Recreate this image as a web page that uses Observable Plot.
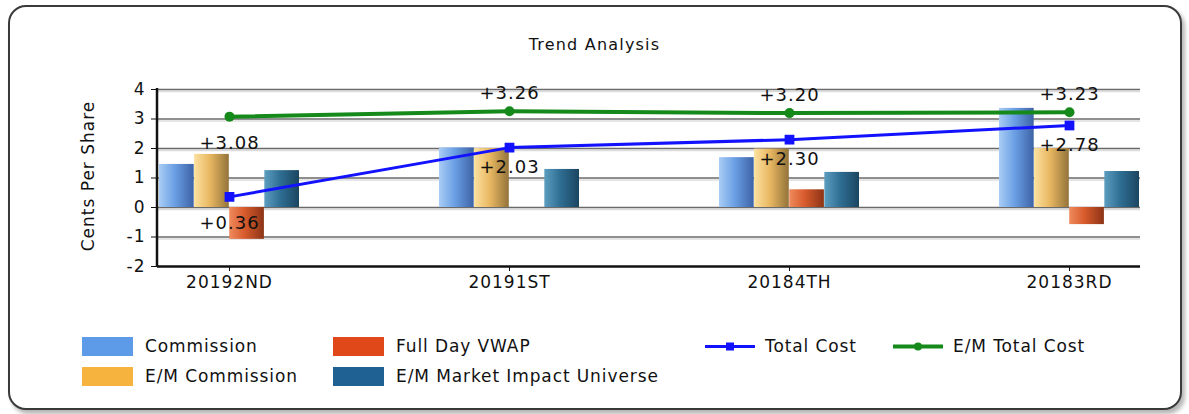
<!DOCTYPE html>
<html><head><meta charset="utf-8">
<script src="https://cdn.jsdelivr.net/npm/d3@7"></script>
<script src="https://cdn.jsdelivr.net/npm/@observablehq/plot@0.6"></script>
<style>
html,body{margin:0;padding:0;background:#fff;font-family:"DejaVu Sans",sans-serif;color:#111;}
#frame{position:absolute;left:8px;top:5px;width:1170px;height:401px;border:2px solid #3a3a3a;border-radius:18px;box-shadow:3px 4px 4px #b5b5b5;background:#fff;}
#title{position:absolute;left:0;width:1189px;top:35px;text-align:center;font-size:16px;letter-spacing:1.2px;}
#ylabel{position:absolute;left:88px;top:176px;transform:translate(-50%,-50%) rotate(-90deg);font-size:17px;letter-spacing:1px;white-space:nowrap;}
#chart{position:absolute;left:0;top:60px;}
#chart svg text{letter-spacing:1px;}
.lg{position:absolute;font-size:17px;letter-spacing:0.9px;white-space:nowrap;display:flex;align-items:center;}
.sw{display:inline-block;width:51px;height:19px;margin-right:12px;}
.ln{display:inline-block;width:50px;height:19px;margin-right:10px;}
</style></head>
<body>
<div id="frame"></div>
<div id="title">Trend Analysis</div>
<div id="ylabel">Cents Per Share</div>
<div id="chart"></div>
<div id="legend"></div>
<script>
const categories = ["20192ND","20191ST","20184TH","20183RD"];
const commission = [1.46, 2.02, 1.69, 3.36];
const emCommission = [1.80, 2.00, 1.98, 2.00];
const fullDayVWAP = [-1.08, 0, 0.60, -0.58];
const emMarketImpact = [1.25, 1.29, 1.19, 1.22];
const totalCost = [0.36, 2.03, 2.30, 2.78];
const emTotalCost = [3.08, 3.26, 3.20, 3.23];
const yTicks = [-2, -1, 0, 1, 2, 3, 4];
const barSeries = ["Commission","E/M Commission","Full Day VWAP","E/M Market Impact Universe"];
const lineSeries = ["Total Cost","E/M Total Cost"];

const barValues = [commission, emCommission, fullDayVWAP, emMarketImpact];
const gradients = [
  ["#a9cdf5","#6b9fe4","#3d63a6"],
  ["#fbe1a0","#e9b862","#93733a"],
  ["#ef8a5c","#d75a2c","#8c3416"],
  ["#5d9dc0","#2f6f94","#1b4560"]
];
const swatch = ["#5d9ae8","#f6b43e","#e0481a","#1f6193"];
const blue = "#1212ff", green = "#15891a";

const W = 1189, H = 240, mL = 157, mR = 49, mT = 29, mB = 34;
const step = (W - mL - mR) / 3.5, bw = step * 0.5 / 4;

const rows = v => categories.map((c, i) => ({cat: c, v: v[i], i}));

const marks = [
  Plot.ruleY(yTicks.filter(t => t > -2), {stroke: "#dcdcdc", strokeWidth: 1.5, dy: 2}),
  Plot.ruleY(yTicks.filter(t => t > -2), {stroke: "#6a6a6a", strokeWidth: 1.6}),
];
barValues.forEach((vals, k) => {
  marks.push(Plot.barY(rows(vals).filter(d => d.v !== 0), {
    x: "cat", y: "v", fill: swatch[k],
    insetLeft: k * bw, insetRight: (3 - k) * bw
  }));
});
marks.push(
  Plot.ruleY([-2], {stroke: "#111", strokeWidth: 2.5}),
  Plot.line(rows(emTotalCost), {x: "cat", y: "v", stroke: green, strokeWidth: 4}),
  Plot.dot(rows(emTotalCost), {x: "cat", y: "v", fill: green, r: 5, symbol: "circle"}),
  Plot.line(rows(totalCost), {x: "cat", y: "v", stroke: blue, strokeWidth: 3}),
  Plot.dot(rows(totalCost), {x: "cat", y: "v", fill: blue, r: 5.5, symbol: "square"}),
  Plot.text(rows(emTotalCost).filter(d => d.i > 0), {x: "cat", y: "v", text: d => "+" + d.v.toFixed(2), dy: -18, fontSize: 18, fill: "#111"}),
  Plot.text(rows(emTotalCost).filter(d => d.i === 0), {x: "cat", y: "v", text: d => "+" + d.v.toFixed(2), dy: 27, fontSize: 18, fill: "#111"}),
  Plot.text(rows(totalCost).filter(d => d.i > 0), {x: "cat", y: "v", text: d => "+" + d.v.toFixed(2), dy: 20, fontSize: 18, fill: "#111"}),
  Plot.text(rows(totalCost).filter(d => d.i === 0), {x: "cat", y: "v", text: d => "+" + d.v.toFixed(2), dy: 26, fontSize: 18, fill: "#111"})
);

const svg = Plot.plot({
  width: W, height: H,
  marginLeft: mL, marginRight: mR, marginTop: mT, marginBottom: mB,
  style: {fontSize: "17px", fontFamily: "DejaVu Sans, sans-serif", color: "#111", background: "transparent", overflow: "visible"},
  x: {type: "band", domain: categories, paddingInner: 0.5, paddingOuter: 0, label: null, tickSize: 5, tickPadding: 4},
  y: {domain: [-2, 4], ticks: yTicks, label: null, tickSize: 6, tickPadding: 6, tickFormat: d => String(d)},
  marks
});
document.getElementById("chart").appendChild(svg);

const ns = "http://www.w3.org/2000/svg";
// left axis line
const yScale = svg.scale("y");
const axisLine = document.createElementNS(ns, "line");
axisLine.setAttribute("x1", mL); axisLine.setAttribute("x2", mL);
axisLine.setAttribute("y1", yScale.apply(4) - 1); axisLine.setAttribute("y2", yScale.apply(-2) + 1);
axisLine.setAttribute("stroke", "#111"); axisLine.setAttribute("stroke-width", "2.5");
svg.appendChild(axisLine);

// gradients for the cylinder-like bars
const defs = document.createElementNS(ns, "defs");
gradients.forEach((g, k) => {
  const lg = document.createElementNS(ns, "linearGradient");
  lg.setAttribute("id", "grad" + k);
  lg.setAttribute("x1", "0"); lg.setAttribute("x2", "1"); lg.setAttribute("y1", "0"); lg.setAttribute("y2", "0");
  [[0, g[0]], [0.45, g[1]], [1, g[2]]].forEach(([o, c]) => {
    const s = document.createElementNS(ns, "stop");
    s.setAttribute("offset", o); s.setAttribute("stop-color", c);
    lg.appendChild(s);
  });
  defs.appendChild(lg);
});
svg.insertBefore(defs, svg.firstChild);
svg.querySelectorAll('g[aria-label="bar"]').forEach((g, k) => {
  g.setAttribute("fill", `url(#grad${k})`);
  g.querySelectorAll("rect").forEach(r => r.setAttribute("fill", `url(#grad${k})`));
});

// legend
const legend = document.getElementById("legend");
const items = [
  {label: barSeries[0], left: 82, top: 336, type: "bar", k: 0},
  {label: barSeries[1], left: 82, top: 366, type: "bar", k: 1},
  {label: barSeries[2], left: 333, top: 336, type: "bar", k: 2},
  {label: barSeries[3], left: 333, top: 366, type: "bar", k: 3},
  {label: lineSeries[0], left: 705, top: 336, type: "line", c: blue, sym: "square"},
  {label: lineSeries[1], left: 893, top: 336, type: "line", c: green, sym: "circle"}
];
items.forEach(it => {
  const d = document.createElement("div");
  d.className = "lg";
  d.style.left = it.left + "px"; d.style.top = it.top + "px";
  if (it.type === "bar") {
    d.innerHTML = `<span class="sw" style="background:${swatch[it.k]}"></span><span>${it.label}</span>`;
  } else {
    const m = it.sym === "square"
      ? `<rect x="21" y="5.5" width="8" height="8" fill="${it.c}"/>`
      : `<circle cx="25" cy="9.5" r="4" fill="${it.c}"/>`;
    d.innerHTML = `<svg class="ln" width="50" height="19"><line x1="0" x2="50" y1="9.5" y2="9.5" stroke="${it.c}" stroke-width="${it.sym === "square" ? 3 : 4}"/>${m}</svg><span>${it.label}</span>`;
  }
  legend.appendChild(d);
});
</script>
</body></html>
